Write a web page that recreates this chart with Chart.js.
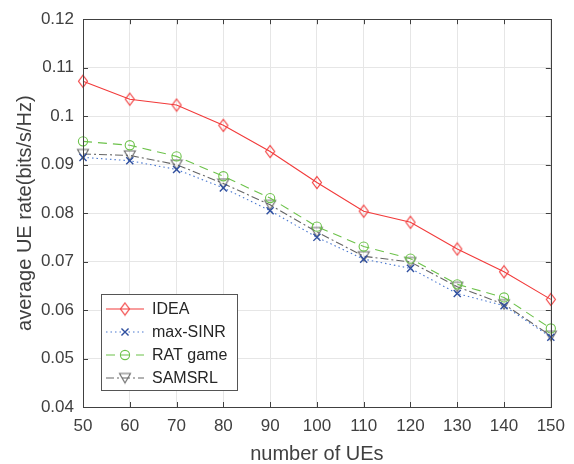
<!DOCTYPE html>
<html>
<head>
<meta charset="utf-8">
<script src="https://cdn.jsdelivr.net/npm/chart.js@4.4.1/dist/chart.umd.min.js"></script>
<style>
  html, body { margin: 0; padding: 0; background: #fff; }
  #wrap { width: 574px; height: 464px; }
</style>
</head>
<body>
<div id="wrap"><canvas id="chart" width="574" height="464"></canvas></div>
<script>
// ---- data ----
const ueCounts = [50, 60, 70, 80, 90, 100, 110, 120, 130, 140, 150];
const ideaRate = [0.1072, 0.1035, 0.1023, 0.0981, 0.0927, 0.0863, 0.0804, 0.0781, 0.0726, 0.0679, 0.0622];
const maxSinrRate = [0.0915, 0.0908, 0.0890, 0.0852, 0.0805, 0.0750, 0.0705, 0.0686, 0.0634, 0.0609, 0.0544];
const ratGameRate = [0.0948, 0.0940, 0.0917, 0.0876, 0.0831, 0.0772, 0.0731, 0.0706, 0.0653, 0.0626, 0.0562];
const samsrlRate = [0.0922, 0.0919, 0.0900, 0.0861, 0.0817, 0.0761, 0.0711, 0.0699, 0.0648, 0.0612, 0.0547];
const xTicks = [50, 60, 70, 80, 90, 100, 110, 120, 130, 140, 150];
const yTicks = [0.04, 0.05, 0.06, 0.07, 0.08, 0.09, 0.1, 0.11, 0.12];

const FONT = 'Arial, "Liberation Sans", sans-serif';
const AXIS_COLOR = '#404040';

const colors = {
  red: '#f23a3a',
  blue: '#4a78d0',
  blueMarker: '#2f4f9f',
  green: '#6cc24a',
  gray: '#666666'
};

// hollow marker images (MATLAB-like)
function makeDiamond(color) {
  const c = document.createElement('canvas');
  c.width = 12; c.height = 15;
  const g = c.getContext('2d');
  g.strokeStyle = color; g.lineWidth = 1.1;
  g.beginPath();
  g.moveTo(6, 1.5); g.lineTo(10.5, 7.5); g.lineTo(6, 13.5); g.lineTo(1.5, 7.5); g.closePath();
  g.stroke();
  return c;
}
function makeTriangleDown(color) {
  const c = document.createElement('canvas');
  c.width = 14; c.height = 13;
  const g = c.getContext('2d');
  g.strokeStyle = color; g.lineWidth = 1.1;
  g.beginPath();
  g.moveTo(1.5, 2); g.lineTo(12.5, 2); g.lineTo(7, 11.5); g.closePath();
  g.stroke();
  return c;
}
const diamondImg = makeDiamond(colors.red);
const triangleImg = makeTriangleDown(colors.gray);

const series = [
  { label: 'IDEA', data: ideaRate, color: colors.red, dash: [], style: diamondImg, radius: 6, pointColor: colors.red, pointWidth: 1 },
  { label: 'max-SINR', data: maxSinrRate, color: colors.blue, dash: [1.5, 3], style: 'crossRot', radius: 5, pointColor: colors.blueMarker, pointWidth: 1.4 },
  { label: 'RAT game', data: ratGameRate, color: colors.green, dash: [9, 6], style: 'circle', radius: 4.6, pointColor: colors.green, pointWidth: 1.1 },
  { label: 'SAMSRL', data: samsrlRate, color: colors.gray, dash: [8, 3, 2, 3], style: triangleImg, radius: 6, pointColor: colors.gray, pointWidth: 1 }
];

// box + inward ticks like MATLAB
const framePlugin = {
  id: 'frame',
  afterDatasetsDraw(chart) {
    const { ctx, chartArea: a, scales: { x, y } } = chart;
    ctx.save();
    ctx.strokeStyle = AXIS_COLOR;
    ctx.lineWidth = 1;
    ctx.strokeRect(Math.round(a.left) + 0.5, Math.round(a.top) + 0.5,
      Math.round(a.right - a.left), Math.round(a.bottom - a.top));
    const len = 5;
    ctx.beginPath();
    xTicks.forEach(v => {
      const px = Math.round(x.getPixelForValue(v)) + 0.5;
      ctx.moveTo(px, a.bottom); ctx.lineTo(px, a.bottom - len);
      ctx.moveTo(px, a.top); ctx.lineTo(px, a.top + len);
    });
    yTicks.forEach(v => {
      const py = Math.round(y.getPixelForValue(v)) + 0.5;
      ctx.moveTo(a.left, py); ctx.lineTo(a.left + len, py);
      ctx.moveTo(a.right, py); ctx.lineTo(a.right - len, py);
    });
    ctx.stroke();
    ctx.restore();
  }
};

// legend with line sample + marker
const legendPlugin = {
  id: 'matlabLegend',
  afterDraw(chart) {
    const { ctx } = chart;
    const box = { x: 101, y: 294, w: 136, h: 96 };
    ctx.save();
    ctx.fillStyle = '#fff';
    ctx.fillRect(box.x, box.y, box.w, box.h);
    ctx.strokeStyle = '#555';
    ctx.lineWidth = 1;
    ctx.strokeRect(box.x + 0.5, box.y + 0.5, box.w, box.h);
    ctx.font = '16px ' + FONT;
    ctx.textBaseline = 'middle';
    series.forEach((s, i) => {
      const yy = box.y + 15 + i * 23;
      const mx = box.x + 24;
      ctx.strokeStyle = s.color;
      ctx.lineWidth = 1.1;
      ctx.setLineDash(s.dash);
      ctx.beginPath();
      ctx.moveTo(box.x + 5, yy); ctx.lineTo(box.x + 43, yy);
      ctx.stroke();
      ctx.setLineDash([]);
      if (typeof s.style !== 'string') {
        ctx.drawImage(s.style, mx - s.style.width / 2, yy - s.style.height / 2);
      } else {
        ctx.strokeStyle = s.pointColor;
        ctx.lineWidth = s.pointWidth;
        ctx.beginPath();
        if (s.style === 'circle') {
          ctx.arc(mx, yy, s.radius, 0, Math.PI * 2);
        } else {
          const d = s.radius * Math.SQRT1_2;
          ctx.moveTo(mx - d, yy - d); ctx.lineTo(mx + d, yy + d);
          ctx.moveTo(mx + d, yy - d); ctx.lineTo(mx - d, yy + d);
        }
        ctx.stroke();
      }
      ctx.fillStyle = '#262626';
      ctx.fillText(s.label, box.x + 51, yy + 1);
    });
    ctx.restore();
  }
};

new Chart(document.getElementById('chart'), {
  type: 'line',
  data: {
    datasets: series.map(s => ({
      label: s.label,
      data: ueCounts.map((u, i) => ({ x: u, y: s.data[i] })),
      borderColor: s.color,
      borderWidth: 1.1,
      borderDash: s.dash,
      pointStyle: s.style,
      pointRadius: s.radius,
      pointBorderColor: s.pointColor,
      pointBackgroundColor: 'rgba(0,0,0,0)',
      pointBorderWidth: s.pointWidth,
      tension: 0,
      clip: false
    }))
  },
  options: {
    responsive: false,
    animation: false,
    events: [],
    layout: { padding: { left: 0, top: 16, right: 18, bottom: 0 } },
    plugins: { legend: { display: false }, tooltip: { enabled: false } },
    scales: {
      x: {
        type: 'linear',
        min: 50, max: 150,
        afterBuildTicks: sc => { sc.ticks = xTicks.map(v => ({ value: v })); },
        afterFit: sc => { sc.height = 57; },
        grid: { color: '#e6e6e6', drawTicks: false },
        border: { display: false },
        ticks: { color: AXIS_COLOR, font: { family: FONT, size: 17 }, padding: 9, maxRotation: 0 },
        title: { display: true, text: 'number of UEs', color: AXIS_COLOR, font: { family: FONT, size: 20 }, padding: { top: 0, bottom: -2 } }
      },
      y: {
        min: 0.04, max: 0.12,
        afterBuildTicks: sc => { sc.ticks = yTicks.map(v => ({ value: v })); },
        afterFit: sc => { sc.width = 83; },
        grid: { color: '#e6e6e6', drawTicks: false },
        border: { display: false },
        ticks: {
          color: AXIS_COLOR, font: { family: FONT, size: 17 }, padding: 9,
          callback: v => String(Number(v.toFixed(2)))
        },
        title: { display: true, text: 'average UE rate(bits/s/Hz)', color: AXIS_COLOR, font: { family: FONT, size: 20 }, padding: { top: 13, bottom: 0 } }
      }
    }
  },
  plugins: [framePlugin, legendPlugin]
});
</script>
</body>
</html>
